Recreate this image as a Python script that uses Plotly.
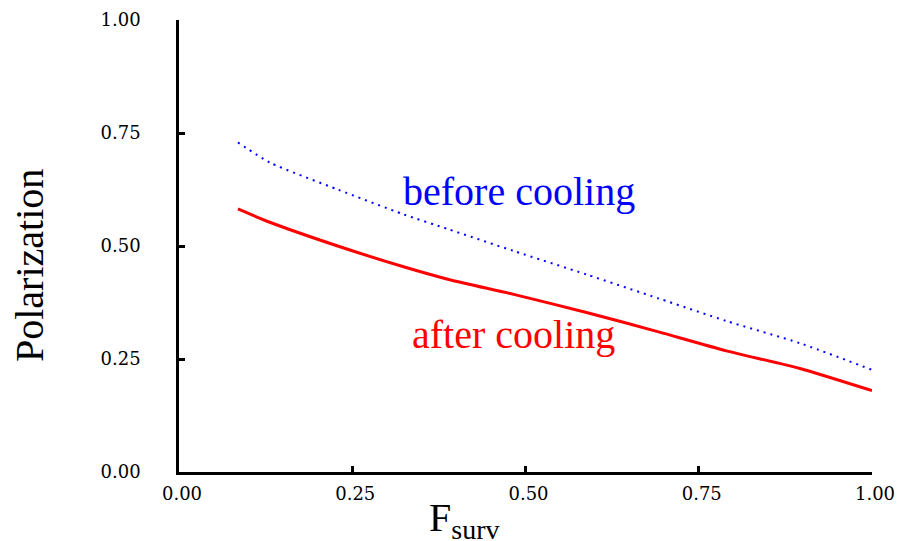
import plotly.graph_objects as go

# Data
f_surv = [0.085, 0.132, 0.229, 0.324, 0.389, 0.483, 0.588, 0.692, 0.790, 0.896, 1.0]
pol_before = [0.729, 0.684, 0.625, 0.570, 0.537, 0.489, 0.437, 0.384, 0.334, 0.285, 0.226]
pol_after = [0.582, 0.552, 0.500, 0.454, 0.426, 0.393, 0.353, 0.310, 0.268, 0.229, 0.180]

tick_vals = [0, 0.25, 0.5, 0.75, 1.0]
tick_text = ["0.00", "0.25", "0.50", "0.75", "1.00"]

fig = go.Figure()
fig.add_trace(go.Scatter(x=f_surv, y=pol_before, mode="lines",
                         line=dict(color="#0000ff", width=2, dash="2px,5px",
                                   shape="spline", smoothing=0.6),
                         showlegend=False, hoverinfo="skip"))
fig.add_trace(go.Scatter(x=f_surv, y=pol_after, mode="lines",
                         line=dict(color="#ff0000", width=3,
                                   shape="spline", smoothing=0.6),
                         showlegend=False, hoverinfo="skip"))

tick_font = dict(family="DejaVu Serif", size=18, color="black")
axis_common = dict(range=[0, 1], tickvals=tick_vals, ticktext=tick_text,
                   showgrid=False, zeroline=False, showline=True, linecolor="black",
                   linewidth=2.5, ticks="inside", ticklen=6, tickwidth=2.5,
                   tickcolor="black", tickfont=tick_font, automargin=False)
fig.update_xaxes(**axis_common, ticklabelstandoff=4, ticklabelshift=3)
fig.update_yaxes(**axis_common, ticklabelstandoff=32)

serif = "Liberation Serif"
fig.add_annotation(text="before cooling", x=0.491, y=0.621, xref="x", yref="y",
                   showarrow=False, font=dict(family=serif, size=40, color="#0000ff"),
                   xanchor="center", yanchor="middle")
fig.add_annotation(text="after cooling", x=0.482, y=0.305, xref="x", yref="y",
                   showarrow=False, font=dict(family=serif, size=40, color="#ff0000"),
                   xanchor="center", yanchor="middle")

L, R, T, B = 179, 26, 20, 69
W, H = 898, 541
pw = W - L - R
ph = H - T - B


def px_to_paper(px, py):
    return (px - L) / pw, (H - B - py) / ph


yx, yy = px_to_paper(29, 266)
fig.add_annotation(text="Polarization", x=yx, y=yy, xref="paper", yref="paper",
                   showarrow=False, textangle=-90,
                   font=dict(family=serif, size=40, color="black"),
                   xanchor="center", yanchor="middle")
xx, xy = px_to_paper(464, 520)
fig.add_annotation(text="F<sub>surv</sub>", x=xx, y=xy, xref="paper", yref="paper",
                   showarrow=False, font=dict(family=serif, size=40, color="black"),
                   xanchor="center", yanchor="middle")

fig.update_layout(width=W, height=H, margin=dict(l=L, r=R, t=T, b=B),
                  plot_bgcolor="white", paper_bgcolor="white")

fig.write_html("out.html")
